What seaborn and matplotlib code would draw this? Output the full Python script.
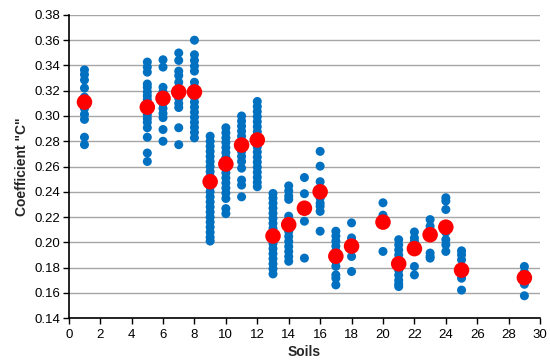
import numpy as np
import pandas as pd
import matplotlib
matplotlib.use("Agg")
import matplotlib.pyplot as plt
import seaborn as sns

# ----------------------------------------------------------
# Data: individual values per soil + soil means
# ----------------------------------------------------------
soil_values = {
    1: [0.3365, 0.3328, 0.3285, 0.3221, 0.315, 0.306, 0.3013, 0.2973, 0.2832, 0.2773],
    5: [0.3427, 0.3387, 0.3347, 0.3253, 0.3227, 0.319, 0.316, 0.313, 0.310, 0.307,
        0.304, 0.301, 0.298, 0.295, 0.2907, 0.2832, 0.2707, 0.264],
    6: [0.3445, 0.3387, 0.3227, 0.319, 0.316, 0.313, 0.310, 0.306, 0.302, 0.2987,
        0.2893, 0.280],
    7: [0.3499, 0.344, 0.3355, 0.332, 0.3267, 0.3213, 0.318, 0.314, 0.310, 0.3067,
        0.2907, 0.2773],
    8: [0.360, 0.3485, 0.344, 0.3395, 0.3355, 0.3267, 0.3227, 0.319, 0.315, 0.311,
        0.307, 0.303, 0.299, 0.295, 0.291, 0.287, 0.2827],
    9: [0.284, 0.280, 0.276, 0.272, 0.268, 0.264, 0.260, 0.256, 0.252, 0.248, 0.244,
        0.240, 0.236, 0.232, 0.228, 0.224, 0.220, 0.216, 0.212, 0.208, 0.204, 0.201],
    10: [0.2907, 0.2867, 0.2827, 0.279, 0.275, 0.271, 0.267, 0.263, 0.259, 0.255,
         0.251, 0.247, 0.243, 0.239, 0.2347, 0.2267, 0.2227],
    11: [0.300, 0.296, 0.292, 0.288, 0.284, 0.280, 0.276, 0.272, 0.268, 0.264,
         0.2587, 0.2493, 0.2453, 0.236],
    12: [0.3115, 0.3075, 0.3035, 0.2995, 0.2955, 0.2915, 0.2875, 0.2835, 0.2795,
         0.2755, 0.2715, 0.2675, 0.2635, 0.2595, 0.2555, 0.2515, 0.2475, 0.244],
    13: [0.2387, 0.235, 0.231, 0.227, 0.223, 0.219, 0.215, 0.211, 0.207, 0.203,
         0.199, 0.195, 0.191, 0.187, 0.183, 0.179, 0.175],
    14: [0.2447, 0.2407, 0.2367, 0.234, 0.2207, 0.2167, 0.2127, 0.2087, 0.2047,
         0.2007, 0.1967, 0.1927, 0.1887, 0.185],
    15: [0.2513, 0.2385, 0.226, 0.2167, 0.1875],
    16: [0.272, 0.2603, 0.248, 0.2393, 0.235, 0.231, 0.2285, 0.2245, 0.2088],
    17: [0.2088, 0.205, 0.201, 0.197, 0.193, 0.189, 0.185, 0.181, 0.1742, 0.1716, 0.1663],
    18: [0.2154, 0.2035, 0.2008, 0.1955, 0.1888, 0.1769],
    20: [0.2313, 0.2215, 0.2154, 0.1928],
    21: [0.2021, 0.198, 0.194, 0.190, 0.186, 0.182, 0.178, 0.174, 0.170, 0.167, 0.165],
    22: [0.2082, 0.2035, 0.2008, 0.1968, 0.1809, 0.1742],
    23: [0.218, 0.2128, 0.2047, 0.1915, 0.1888, 0.1875],
    24: [0.2353, 0.2327, 0.226, 0.208, 0.2021, 0.1981, 0.1928],
    25: [0.1933, 0.1902, 0.1862, 0.1782, 0.1716, 0.1622],
    29: [0.1809, 0.1764, 0.1716, 0.1668, 0.1577],
}

mean_soils = [1, 5, 6, 7, 8, 9, 10, 11, 12, 13, 14, 15, 16, 17, 18, 20, 21, 22, 23, 24, 25, 29]
mean_values = [0.311, 0.307, 0.314, 0.319, 0.319, 0.248, 0.262, 0.277, 0.281, 0.205,
               0.214, 0.227, 0.240, 0.189, 0.197, 0.216, 0.183, 0.195, 0.206, 0.212,
               0.178, 0.172]

x_ticks = list(range(0, 31, 2))
y_ticks = [0.14, 0.16, 0.18, 0.20, 0.22, 0.24, 0.26, 0.28, 0.30, 0.32, 0.34, 0.36, 0.38]

# long format table for seaborn
rows = [(s, v) for s, vals in soil_values.items() for v in vals]
df_pts = pd.DataFrame(rows, columns=["soil", "c"])
df_mean = pd.DataFrame({"soil": mean_soils, "c": mean_values})

# ----------------------------------------------------------
# Plot
# ----------------------------------------------------------
sns.set_style("white")
plt.rcParams["font.family"] = ["Liberation Sans", "DejaVu Sans"]

fig, ax = plt.subplots(figsize=(5.5, 3.64), dpi=100)
fig.subplots_adjust(left=0.125, right=0.982, top=0.959, bottom=0.126)

for y in y_ticks:
    ax.axhline(y, color="#a6a6a6", lw=1.0, zorder=0)

sns.scatterplot(data=df_pts, x="soil", y="c", color="#0070C0", s=42,
                edgecolor="none", ax=ax, zorder=2)
sns.scatterplot(data=df_mean, x="soil", y="c", color="#FF0000", s=125,
                edgecolor="none", ax=ax, zorder=3)

ax.set_xlim(0, 30)
ax.set_ylim(0.14, 0.38)
ax.set_xticks(x_ticks)
ax.set_yticks(y_ticks)
ax.set_yticklabels([f"{t:.2f}" for t in y_ticks])
ax.tick_params(axis="both", labelsize=9.5, direction="out", length=4, width=1,
               bottom=True, left=True, colors="black")
ax.tick_params(axis="y", pad=2)

for side in ["top", "right"]:
    ax.spines[side].set_visible(False)
for side in ["left", "bottom"]:
    ax.spines[side].set_color("black")
    ax.spines[side].set_linewidth(1.2)

ax.set_xlabel("Soils", fontsize=10, fontweight="bold", labelpad=3)
ax.set_ylabel('Coefficient "C"', fontsize=10, fontweight="bold", labelpad=4)

fig.savefig("out.png", dpi=100)
